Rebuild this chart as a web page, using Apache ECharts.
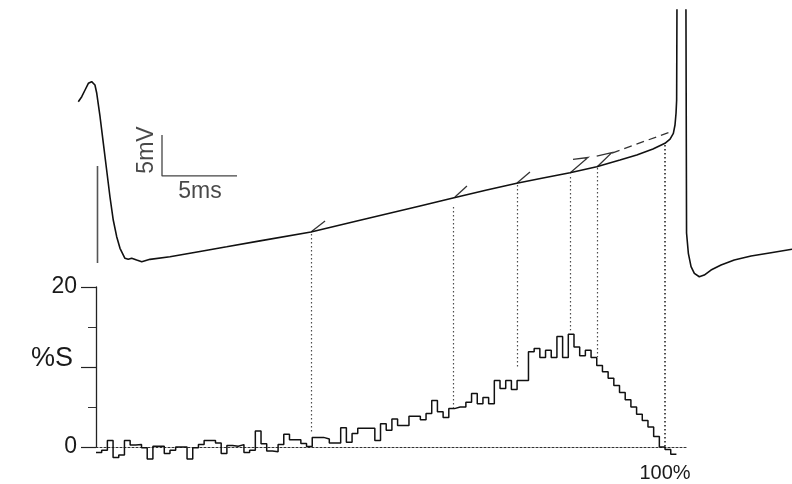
<!DOCTYPE html>
<html>
<head>
<meta charset="utf-8">
<script src="https://cdn.jsdelivr.net/npm/echarts@6/dist/echarts.min.js"></script>
<style>
  html, body { margin: 0; padding: 0; background: #ffffff; }
  #chart { width: 792px; height: 484px; }
</style>
</head>
<body>
<div id="chart"></div>
<script>
// ---- Membrane potential trace: time (ms from start of the interval), potential (mV, relative) ----
const traceTime = [-1.18, -0.95, -0.73, -0.51, -0.29, -0.07, 0.05, 0.27, 0.49, 0.71, 0.93, 1.15, 1.38, 1.6, 1.93, 2.15, 2.38, 2.71, 3.05, 3.6, 4.93, 6.93, 8.71, 10.93, 14.33, 17.6, 21.6, 23.8, 26.05, 28.05, 29.8, 31.6, 33.38, 34.93, 36.05, 37.13, 37.93, 38.27, 38.49, 38.6, 38.67, 38.71, 38.73, 39.03, 39.33, 39.37, 39.49, 39.67, 39.89, 40.22, 40.55, 41.0, 41.67, 42.55, 43.67, 45.0, 46.4];
const traceMv   = [18.78, 19.39, 20.21, 21.03, 21.23, 20.82, 19.81, 16.94, 13.69, 10.42, 7.15, 4.3, 2.26, 0.84, -0.38, -0.51, -0.38, -0.59, -0.8, -0.51, -0.2, 0.45, 1.02, 1.75, 2.83, 4.27, 6.02, 6.99, 7.97, 8.79, 9.44, 10.09, 10.82, 11.64, 12.26, 12.99, 13.69, 14.21, 14.91, 15.93, 17.4, 18.99, 30.0, 45.0, 30.0, 2.71, 0.23, -1.41, -2.22, -2.64, -2.43, -1.82, -1.2, -0.59, -0.1, 0.3, 0.72];

// Interspike interval (ms) that defines 100 % phase
const intervalMs = 37.93;

// Stimulus marker drawn under the first spike (time, from mV, to mV)
const markerTime = 0.1;
const markerMv = [10.9, -0.96];

// Perturbed trajectories after a stimulus: [time, mV] vertices
const kickTime = [[14.33, 15.27], [23.93, 24.73], [28.07, 28.93], [31.6, 32.8, 31.8], [33.4, 34.38, 33.38]];
const kickMv   = [[2.83, 4.18], [7.12, 8.46], [8.83, 10.18], [10.05, 11.95, 11.71], [10.79, 12.54, 12.13]];
const shiftedTime = [34.4, 38.27];
const shiftedMv   = [12.5, 15.07];

// Scale bars: 5 mV and 5 ms, and where their captions sit
const scaleOrigin = [4.4, 9.7];
const scaleMv = 5;
const scaleMs = 5;
const mvCaptionAt = [3.4, 12.87];
const msCaptionAt = [6.93, 7.73];

// ---- Phase response histogram: %S per 1 % phase bin (bins 0..101) ----
const binStart = 0;
const binWidth = 1;
const percentS = [
  -0.7, -0.4, 0.8, -1.3, -1.0, 0.8, 0.25, 0.3, -0.1, -1.5,
  0.1, 0.1, -0.8, -0.4, 0, 0, -1.5, -0.1, 0.3, 0.8,
  0.8, 0.5, -0.8, 0.2, 0.1, 0.3, -0.7, -0.4, 2.0, 0.4,
  -0.5, -0.6, 0.3, 1.6, 0.9, 0.9, 0.45, 0.05, 1.2, 1.2,
  1.0, 0.5, 0.5, 2.4, 0.6, 1.7, 2.35, 2.35, 2.35, 0.8,
  2.9, 2.1, 3.5, 2.7, 2.7, 3.85, 3.85, 3.4, 4.2, 5.8,
  4.4, 3.7, 4.8, 5.0, 5.0, 5.6, 6.7, 5.4, 6.2, 5.4,
  8.3, 7.3, 8.3, 7.2, 8.3, 8.3, 11.9, 12.3, 11.2, 12.1,
  11.2, 13.8, 11.2, 14.1, 12.5, 11.4, 12.1, 11.2, 10.2, 9.4,
  8.6, 7.7, 6.8, 5.9, 5.0, 4.1, 3.3, 2.5, 1.3, 0,
  -0.3, -0.9
];

// Guide lines from the trace to the histogram: stimulus time (ms), top (mV), bottom (%S)
const guideTime = [14.33, 23.8, 28.05, 31.6, 33.4, 37.93];
const guideTopMv = [2.59, 5.89, 8.59, 9.56, 10.67, 13.48];
const guideBottomS = [1.75, 4.9, 10.0, 14.6, 11.25, 0];

const yTicks = [0, 20];

const FONT = 'Liberation Sans, Arial, Helvetica, sans-serif';
const INK = '#111111';
const TEXT = '#1a1a1a';

const traceData = traceTime.map((t, i) => [t, traceMv[i]]);
const histData = percentS.map((v, i) => [binStart + i * binWidth, v]);
histData.push([binStart + percentS.length * binWidth, percentS[percentS.length - 1]]);

const kickLines = kickTime.map((ts, k) => ({ coords: ts.map((t, j) => [t, kickMv[k][j]]) }));

const scaleBar = [
  [scaleOrigin[0], scaleOrigin[1] + scaleMv],
  [scaleOrigin[0], scaleOrigin[1]],
  [scaleOrigin[0] + scaleMs, scaleOrigin[1]]
];
const scaleLabels = [
  { value: mvCaptionAt, label: { formatter: scaleMv + 'mV', rotate: 90 } },
  { value: msCaptionAt, label: { formatter: scaleMs + 'ms' } }
];

const chart = echarts.init(document.getElementById('chart'), null, { renderer: 'canvas' });

const option = {
  animation: false,
  backgroundColor: '#ffffff',
  title: {
    text: '%S', left: 26, top: 340,
    textStyle: { fontSize: 27, fontWeight: 'normal', fontFamily: FONT, color: TEXT }
  },
  grid: [
    { left: 0, top: 10, width: 792, height: 474 },
    { left: 96, top: 287, width: 591.8, height: 160 }
  ],
  xAxis: [
    { gridIndex: 0, type: 'value', min: -6.4, max: 46.4, show: false },
    { gridIndex: 1, type: 'value', min: 0, max: 104, interval: 100,
      axisLine: { show: true, lineStyle: { color: '#333', width: 1.2, type: [2, 2] } },
      axisTick: { show: false },
      splitLine: { show: false },
      axisLabel: { show: true, margin: 16, fontSize: 20, fontFamily: FONT, color: TEXT,
                   formatter: v => (v === 100 ? '100%' : '') } }
  ],
  yAxis: [
    { gridIndex: 0, type: 'value', min: -28, max: 30, show: false },
    { gridIndex: 1, type: 'value', min: 0, max: 20, interval: 10,
      axisLine: { show: true, lineStyle: { color: '#222', width: 1.3 } },
      axisTick: { show: true, length: 15, lineStyle: { color: '#222', width: 1.2 } },
      minorTick: { show: true, splitNumber: 2, length: 8, lineStyle: { color: '#333', width: 1 } },
      splitLine: { show: false },
      axisLabel: { margin: 19, fontSize: 23, fontFamily: FONT, color: TEXT,
                   formatter: v => (yTicks.indexOf(v) >= 0 ? String(v) : '') } }
  ],
  series: [
    { type: 'line', xAxisIndex: 0, yAxisIndex: 0, data: traceData, showSymbol: false,
      lineStyle: { color: INK, width: 1.6 }, z: 5 },
    { type: 'line', xAxisIndex: 0, yAxisIndex: 0, showSymbol: false,
      data: [[markerTime, markerMv[0]], [markerTime, markerMv[1]]],
      lineStyle: { color: '#555', width: 1.6 } },
    { type: 'lines', coordinateSystem: 'cartesian2d', xAxisIndex: 0, yAxisIndex: 0, polyline: true,
      data: kickLines, lineStyle: { color: '#333', width: 1.3, opacity: 1 }, z: 4 },
    { type: 'lines', coordinateSystem: 'cartesian2d', xAxisIndex: 0, yAxisIndex: 0,
      data: [{ coords: shiftedTime.map((t, i) => [t, shiftedMv[i]]) }],
      lineStyle: { color: '#333', width: 1.3, type: [8, 5], opacity: 1 }, z: 4 },
    { type: 'line', xAxisIndex: 0, yAxisIndex: 0, data: scaleBar, showSymbol: false,
      lineStyle: { color: '#444', width: 1.3 } },
    { type: 'scatter', xAxisIndex: 0, yAxisIndex: 0, data: scaleLabels, symbolSize: 1,
      itemStyle: { color: 'rgba(0,0,0,0)' },
      label: { show: true, position: 'inside', align: 'center', verticalAlign: 'middle',
               fontSize: 23, fontFamily: FONT, color: TEXT } },
    { type: 'line', xAxisIndex: 1, yAxisIndex: 1, data: histData, step: 'end', showSymbol: false,
      clip: false, lineStyle: { color: INK, width: 1.5 }, z: 5 }
  ]
};

chart.setOption(option);

// Guide lines cross from the trace panel into the histogram panel: map each
// histogram bottom value into trace coordinates through the two axes.
const guides = guideTime.map((t, i) => {
  const phase = t / intervalMs * 100;
  const px = chart.convertToPixel({ xAxisIndex: 1, yAxisIndex: 1 }, [phase, guideBottomS[i]]);
  const bottom = chart.convertFromPixel({ xAxisIndex: 0, yAxisIndex: 0 }, px);
  const last = i === guideTime.length - 1;
  return {
    coords: [[t, guideTopMv[i]], [t, bottom[1]]],
    lineStyle: last ? { color: '#1a1a1a', width: 1.5, type: [1.5, 2.5] } : { color: '#4d4d4d', width: 1.2, type: [1.5, 2.5] }
  };
});

chart.setOption({
  series: option.series.concat([
    { type: 'lines', coordinateSystem: 'cartesian2d', xAxisIndex: 0, yAxisIndex: 0,
      data: guides, lineStyle: { opacity: 1 }, z: 2 }
  ])
});
</script>
</body>
</html>
